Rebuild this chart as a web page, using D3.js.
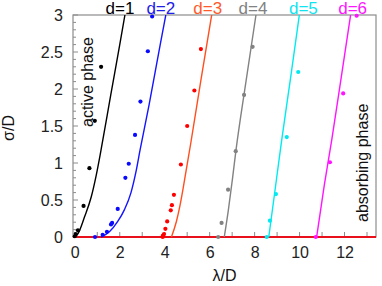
<!DOCTYPE html>
<meta charset="utf-8">
<style>
    body { margin: 0; background: #fff; }
    svg text { font-family: "Liberation Sans", Arial, sans-serif; }
    .tick text { font-size: 16px; fill: #222; }
</style>
<body>
<div id="chart"></div>
<script src="https://d3js.org/d3.v7.min.js"></script>
<script>
    // series names and colours
    var dNames = ["d=1", "d=2", "d=3", "d=4", "d=5", "d=6"];
    var lineColors = ["#000000", "#1414ff", "#ff4f1f", "#828282", "#00eaf0", "#ff14ff"];
    var dotColors = ["#000000", "#0a0aff", "#ff0000", "#828282", "#00eaf0", "#ff14ff"];
    var labelColors = ["#000000", "#2020e8", "#ff5a2a", "#828282", "#10e4f0", "#ff14ff"];

    // fitted curves, [lambda/D, sigma/D]
    var curve1 = [[0, 0], [0.15, 0.05], [0.43, 0.27], [0.73, 0.54], [0.95, 0.83], [1.17, 1.18], [1.6, 1.92], [2.0, 2.6], [2.23, 3.0]];
    var curve2 = [[1.17, 0], [1.54, 0.07], [1.91, 0.21], [2.21, 0.37], [2.5, 0.6], [2.72, 0.88], [2.9, 1.17], [3.3, 1.78], [3.8, 2.6], [4.05, 3.0]];
    var curve3 = [[4.3, 0], [4.52, 0.21], [4.67, 0.41], [4.81, 0.64], [4.96, 0.91], [5.15, 1.25], [5.6, 2.1], [6.09, 3.0]];
    var curve4 = [[6.65, 0], [6.83, 0.36], [7.02, 0.8], [7.17, 1.17], [7.6, 2.07], [8.06, 3.0]];
    var curve5 = [[8.63, 0], [8.85, 0.5], [9.2, 1.3], [9.6, 2.15], [9.99, 3.0]];
    var curve6 = [[10.76, 0], [11.1, 0.7], [11.43, 1.31], [11.85, 2.15], [12.27, 3.0]];

    // simulation points, [lambda/D, sigma/D]
    var points1 = [[0, 0.01], [0.04, 0.04], [0.14, 0.09], [0.39, 0.42], [0.65, 0.93], [0.89, 1.57], [1.17, 2.3]];
    var points2 = [[0.9, 0], [1.24, 0.03], [1.43, 0.07], [1.61, 0.17], [1.66, 0.19], [1.91, 0.38], [2.25, 0.8], [2.4, 0.99], [2.68, 1.38], [2.92, 1.83], [3.25, 2.51], [3.44, 2.98]];
    var points3 = [[3.91, 0], [3.92, 0.02], [3.97, 0.04], [4.03, 0.11], [4.11, 0.21], [4.27, 0.36], [4.32, 0.43], [4.41, 0.57], [4.72, 0.98], [5.0, 1.5], [5.32, 1.98], [5.61, 2.54]];
    var points4 = [[6.38, 0], [6.53, 0.19], [6.82, 0.64], [7.16, 1.16], [7.53, 1.92], [7.91, 2.57]];
    var points5 = [[8.54, 0], [8.68, 0.22], [8.95, 0.58], [9.43, 1.35], [9.94, 2.23]];
    var points6 = [[10.72, 0], [11.35, 1.01], [11.94, 1.94], [12.54, 2.99]];

    var curves = [curve1, curve2, curve3, curve4, curve5, curve6];
    var points = [points1, points2, points3, points4, points5, points6];

    var xTicks = [0, 2, 4, 6, 8, 10, 12];
    var yTicks = [0, 0.5, 1, 1.5, 2, 2.5, 3];

    var margin = { top: 15, right: 6, bottom: 49, left: 73 };
    var width = 382 - margin.left - margin.right,
        height = 286 - margin.top - margin.bottom;

    var x = d3.scaleLinear().domain([-0.08, 13.4]).range([0, width]);
    var y = d3.scaleLinear().domain([0, 3]).range([height, 0]);

    var svg = d3.select("#chart").append("svg")
        .attr("width", 382)
        .attr("height", 286)
        .append("g")
        .attr("transform", "translate(" + margin.left + "," + margin.top + ")");

    svg.append("clipPath").attr("id", "clip")
        .append("rect").attr("width", width).attr("height", height + 3);

    // frame
    svg.append("rect")
        .attr("width", width).attr("height", height)
        .attr("fill", "none").attr("stroke", "#8c8c8c").attr("stroke-width", 1.2);

    // minor ticks on y (every 0.1) and x (every 1)
    svg.append("g").selectAll("line")
        .data(d3.range(0, 3.01, 0.1))
        .enter().append("line")
        .attr("x1", 0)
        .attr("x2", function (d, i) { return i % 5 == 0 ? 5 : 3; })
        .attr("y1", function (d) { return y(d); })
        .attr("y2", function (d) { return y(d); })
        .attr("stroke", "#8c8c8c");

    svg.append("g").selectAll("line")
        .data(d3.range(0, 14, 1))
        .enter().append("line")
        .attr("x1", function (d) { return x(d); })
        .attr("x2", function (d) { return x(d); })
        .attr("y1", height)
        .attr("y2", height - 5)
        .attr("stroke", "#8c8c8c");

    // axes (labels only)
    var yAxis = svg.append("g")
        .call(d3.axisLeft(y).tickValues(yTicks).tickSize(0).tickPadding(10).tickFormat(d3.format("")));
    yAxis.select(".domain").remove();

    var xAxis = svg.append("g")
        .attr("transform", "translate(0," + height + ")")
        .call(d3.axisBottom(x).tickValues(xTicks).tickSize(0).tickPadding(10).tickFormat(d3.format("d")));
    xAxis.select(".domain").remove();

    // absorbing line
    svg.append("line")
        .attr("x1", 0).attr("x2", width)
        .attr("y1", y(0)).attr("y2", y(0))
        .attr("stroke", "#e8101a").attr("stroke-width", 2);

    var line = d3.line()
        .x(function (d) { return x(d[0]); })
        .y(function (d) { return y(d[1]); })
        .curve(d3.curveMonotoneX);

    var plot = svg.append("g").attr("clip-path", "url(#clip)");

    plot.selectAll(".curve")
        .data(curves)
        .enter().append("path")
        .attr("class", "curve")
        .attr("d", line)
        .attr("fill", "none")
        .attr("stroke", function (d, i) { return lineColors[i]; })
        .attr("stroke-width", 1.4);

    points.forEach(function (pts, i) {
        svg.append("g").selectAll("circle")
            .data(pts)
            .enter().append("circle")
            .attr("cx", function (d) { return x(d[0]); })
            .attr("cy", function (d) { return y(d[1]); })
            .attr("r", 2.1)
            .attr("fill", dotColors[i]);
    });

    // d labels above the curve tops
    var labelDx = [-5, -5, -4, -3, 4, 2];
    svg.selectAll(".dlabel")
        .data(curves)
        .enter().append("text")
        .attr("class", "dlabel")
        .attr("x", function (d, i) { return x(d[d.length - 1][0]) + labelDx[i]; })
        .attr("y", -1)
        .attr("text-anchor", "middle")
        .style("font-size", "17px")
        .attr("fill", function (d, i) { return labelColors[i]; })
        .text(function (d, i) { return dNames[i]; });

    svg.append("text")
        .attr("transform", "translate(" + (92.5 - margin.left) + "," + (127 - margin.top) + ") rotate(-90)")
        .style("font-size", "16px")
        .attr("fill", "#111")
        .text("active phase");

    svg.append("text")
        .attr("transform", "translate(" + (367.5 - margin.left) + "," + (222 - margin.top) + ") rotate(-90)")
        .style("font-size", "16px")
        .attr("fill", "#111")
        .text("absorbing phase");

    svg.append("text")
        .attr("transform", "translate(" + (13.5 - margin.left) + "," + (128 - margin.top) + ") rotate(-90)")
        .attr("text-anchor", "middle")
        .style("font-size", "16px")
        .attr("fill", "#111")
        .text("σ/D");

    svg.append("text")
        .attr("x", width / 2)
        .attr("y", 281 - margin.top)
        .attr("text-anchor", "middle")
        .style("font-size", "16px")
        .attr("fill", "#111")
        .text("λ/D");
</script>
</body>
